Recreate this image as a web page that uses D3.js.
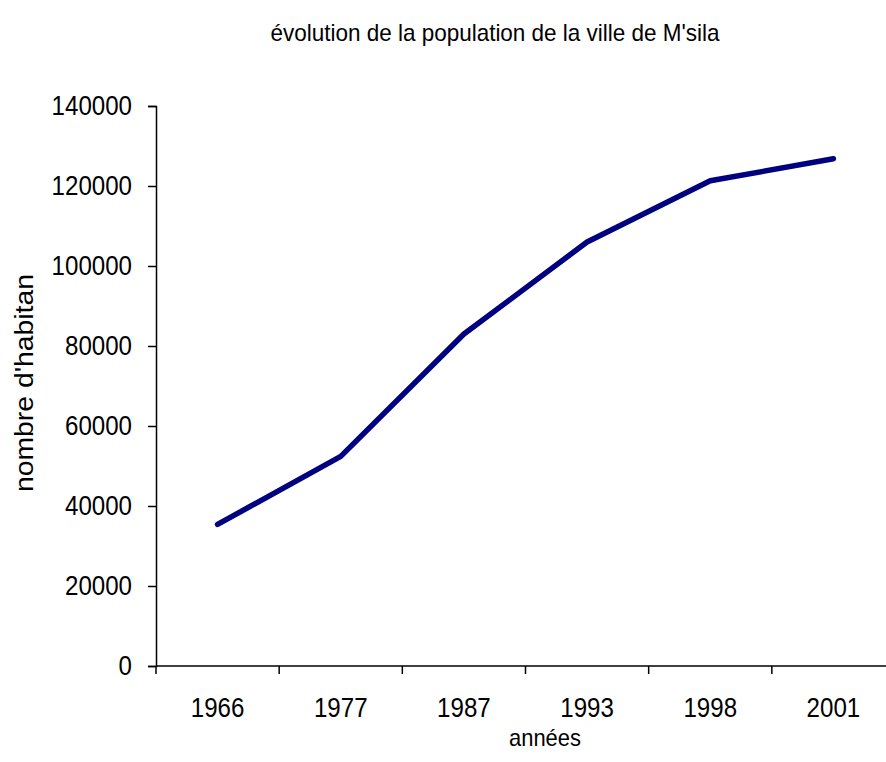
<!DOCTYPE html>
<html lang="fr">
<head>
    <meta charset="UTF-8">
    <title>évolution de la population de la ville de M'sila</title>
    <style>
        body { margin: 0; background: #fff; }
        text { font-family: "Liberation Sans", Arial, sans-serif; fill: #000; }
    </style>
</head>
<body>
    <svg id="chart" width="886" height="762"></svg>

    <script src="https://d3js.org/d3.v7.min.js"></script>

    <script>
        // Data
        const years = ["1966", "1977", "1987", "1993", "1998", "2001"];
        const population = [35400, 52400, 83000, 106000, 121300, 126800];
        const yTicks = [0, 20000, 40000, 60000, 80000, 100000, 120000, 140000];

        const data = years.map((y, i) => ({ year: y, value: population[i] }));

        const svg = d3.select("#chart");
        const margin = { top: 106, right: -9, bottom: 96, left: 156 };
        const width = +svg.attr("width") - margin.left - margin.right;
        const height = +svg.attr("height") - margin.top - margin.bottom;
        const g = svg.append("g").attr("transform", `translate(${margin.left},${margin.top})`);

        // Scales
        const x = d3.scaleBand()
            .domain(years)
            .range([0, width]);

        const y = d3.scaleLinear()
            .domain([0, 140000])
            .range([height, 0]);

        // the original glyphs are a bit taller than they are wide
        const digitW = 13.4;

        // Y axis
        const yAxis = g.append("g")
            .call(d3.axisLeft(y).tickValues(yTicks).tickFormat(d3.format("d")).tickSize(8).tickPadding(16));
        yAxis.selectAll("text")
            .style("font-size", "27px")
            .attr("textLength", d => String(d).length * digitW)
            .attr("lengthAdjust", "spacingAndGlyphs");

        // X axis, ticks sit between categories
        const xAxis = g.append("g")
            .attr("transform", `translate(0,${height})`);
        xAxis.append("line")
            .attr("x1", 0).attr("x2", width)
            .attr("stroke", "#000");
        xAxis.selectAll(".tick")
            .data(years)
            .join("line")
            .attr("class", "tick")
            .attr("x1", d => x(d)).attr("x2", d => x(d))
            .attr("y1", 0).attr("y2", 8)
            .attr("stroke", "#000");
        xAxis.selectAll(".label")
            .data(years)
            .join("text")
            .attr("class", "label")
            .attr("x", d => x(d) + x.bandwidth() / 2)
            .attr("y", 51)
            .attr("text-anchor", "middle")
            .attr("textLength", d => d.length * digitW)
            .attr("lengthAdjust", "spacingAndGlyphs")
            .style("font-size", "27px")
            .text(d => d);

        g.selectAll(".domain, .tick line").attr("stroke", "#000").attr("stroke-width", 1.5);
        xAxis.selectAll("line").attr("stroke-width", 1.5);

        // Line
        const line = d3.line()
            .x(d => x(d.year) + x.bandwidth() / 2)
            .y(d => y(d.value));

        g.append("path")
            .datum(data)
            .attr("d", line)
            .attr("fill", "none")
            .attr("stroke", "#000080")
            .attr("stroke-width", 5.5)
            .attr("stroke-linejoin", "round")
            .attr("stroke-linecap", "round");

        // Title and labels
        svg.append("text")
            .attr("x", 495)
            .attr("y", 41)
            .attr("text-anchor", "middle")
            .attr("textLength", 449)
            .attr("lengthAdjust", "spacingAndGlyphs")
            .style("font-size", "24px")
            .text("évolution de la population de la ville de M'sila");

        svg.append("text")
            .attr("x", 545)
            .attr("y", 746)
            .attr("text-anchor", "middle")
            .attr("textLength", 72)
            .attr("lengthAdjust", "spacingAndGlyphs")
            .style("font-size", "24px")
            .text("années");

        svg.append("text")
            .attr("transform", "rotate(-90)")
            .attr("x", -383)
            .attr("y", 33)
            .attr("text-anchor", "middle")
            .attr("textLength", 218)
            .attr("lengthAdjust", "spacingAndGlyphs")
            .style("font-size", "25px")
            .text("nombre d'habitan");
    </script>
</body>
</html>
